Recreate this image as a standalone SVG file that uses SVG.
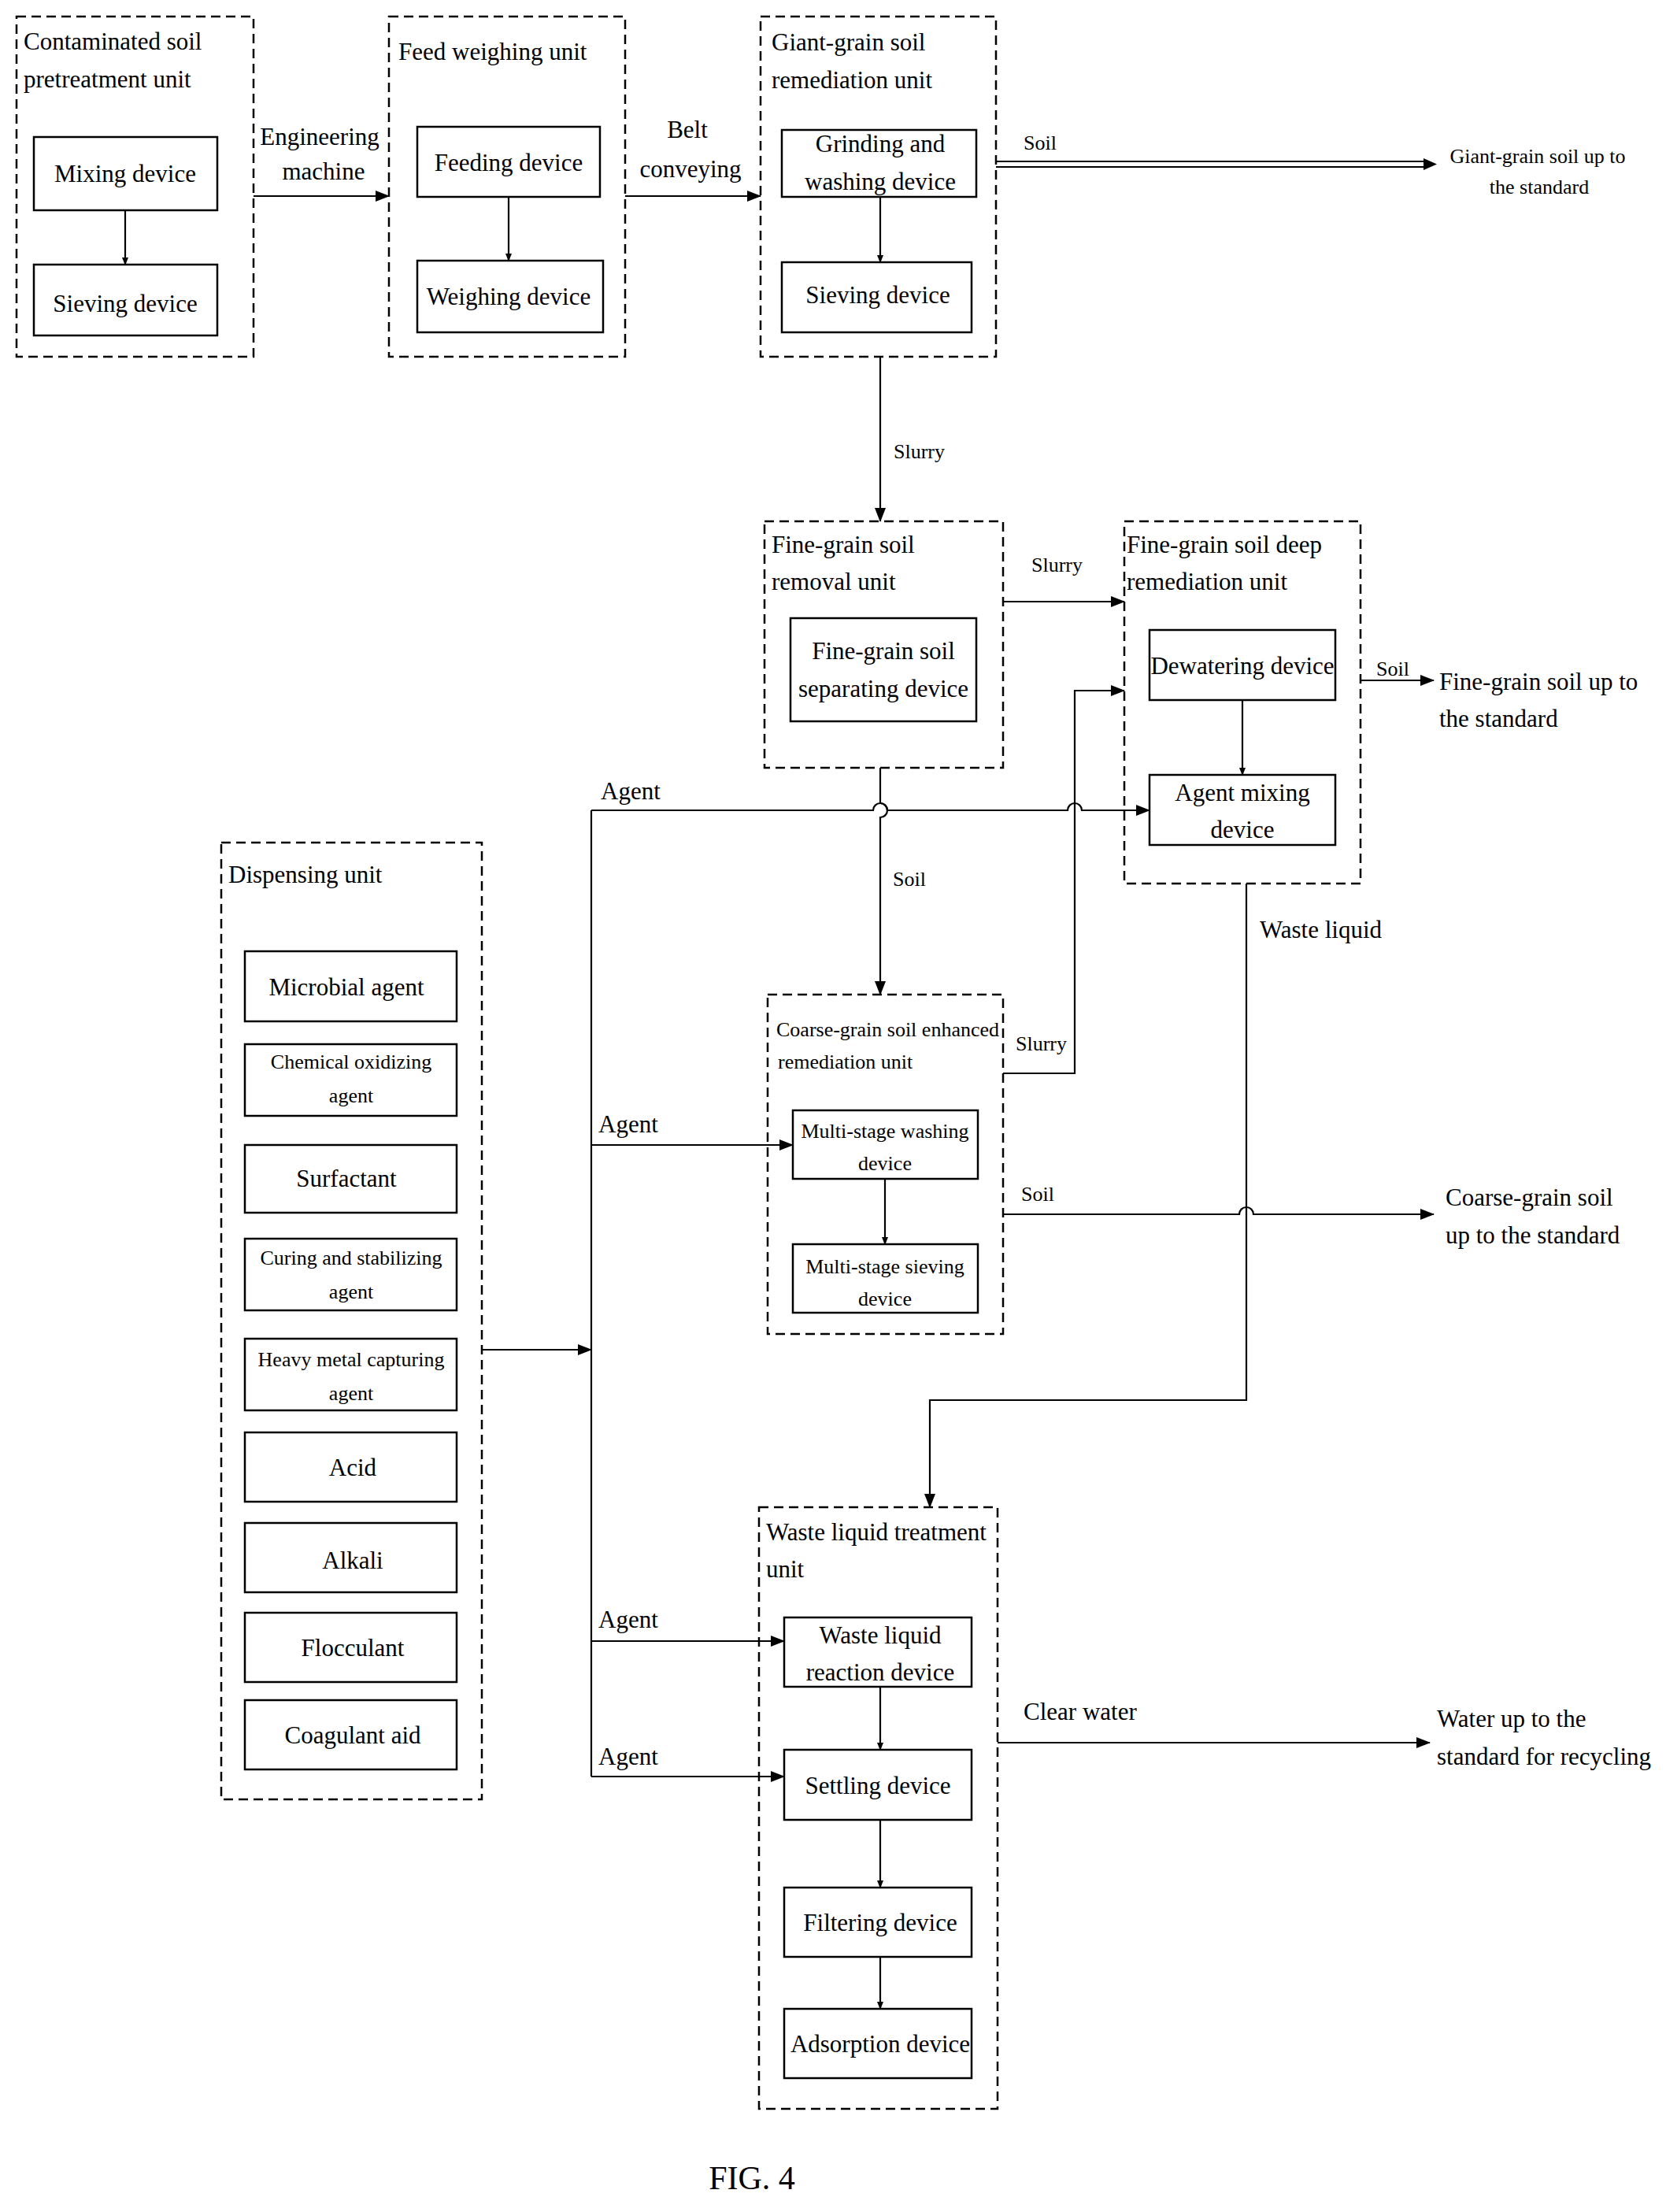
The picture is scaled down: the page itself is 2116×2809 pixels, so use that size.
<svg xmlns="http://www.w3.org/2000/svg" width="2116" height="2809" viewBox="0 0 2116 2809">
<style>
text{font-family:"Liberation Serif",serif;font-size:31px;fill:#000}
.s{font-size:26px}
.c{text-anchor:middle}
.u{fill:none;stroke:#000;stroke-width:2.5;stroke-dasharray:12,7}
.b{fill:#fff;stroke:#000;stroke-width:2.5}
.l{fill:none;stroke:#000;stroke-width:2.2}
</style>
<defs><marker id="a" markerWidth="10" markerHeight="8" refX="9" refY="4" orient="auto" markerUnits="userSpaceOnUse"><path d="M0,0L10,4L0,8z" fill="#000"/></marker>
<marker id="a2" markerWidth="18" markerHeight="14" refX="17" refY="7" orient="auto" markerUnits="userSpaceOnUse"><path d="M0,0L18,7L0,14z" fill="#000"/></marker></defs>
<rect width="2116" height="2809" fill="#fff"/>

<g id="pretreat"><rect class="u" x="21" y="21" width="301" height="432"/><text x="30" y="63">Contaminated soil</text><text x="30" y="111">pretreatment unit</text>
<rect class="b" x="43" y="174" width="233" height="93"/><text class="c" x="159" y="231">Mixing device</text>
<rect class="b" x="43" y="336" width="233" height="90"/><text class="c" x="159" y="396">Sieving device</text></g>

<g id="feed"><rect class="u" x="494" y="21" width="300" height="432"/><text x="506" y="76">Feed weighing unit</text>
<rect class="b" x="530" y="161" width="232" height="89"/><text class="c" x="646" y="217">Feeding device</text>
<rect class="b" x="530" y="331" width="236" height="91"/><text class="c" x="646" y="387">Weighing device</text></g>

<g id="giant"><rect class="u" x="966" y="21" width="299" height="432"/><text x="980" y="64">Giant-grain soil</text><text x="980" y="112">remediation unit</text>
<rect class="b" x="993" y="165" width="247" height="85"/><text class="c" x="1118" y="193">Grinding and</text><text class="c" x="1118" y="241">washing device</text>
<rect class="b" x="993" y="333" width="241" height="89"/><text class="c" x="1115" y="385">Sieving device</text></g>

<g id="fineremoval"><rect class="u" x="971" y="662" width="303" height="313"/><text x="980" y="702">Fine-grain soil</text><text x="980" y="749">removal unit</text>
<rect class="b" x="1004" y="785" width="236" height="131"/><text class="c" x="1122" y="837">Fine-grain soil</text><text class="c" x="1122" y="885">separating device</text></g>

<g id="finedeep"><rect class="u" x="1428" y="662" width="300" height="460"/><text x="1431" y="702">Fine-grain soil deep</text><text x="1431" y="749">remediation unit</text>
<rect class="b" x="1460" y="800" width="236" height="89"/><text class="c" x="1578" y="856">Dewatering device</text>
<rect class="b" x="1460" y="984" width="236" height="89"/><text class="c" x="1578" y="1017">Agent mixing</text><text class="c" x="1578" y="1064">device</text></g>

<g id="coarse"><rect class="u" x="975" y="1263" width="299" height="431"/><text class="s" x="986" y="1316">Coarse-grain soil enhanced</text><text class="s" x="988" y="1357">remediation unit</text>
<rect class="b" x="1007" y="1410" width="235" height="87"/><text class="s c" x="1124" y="1445">Multi-stage washing</text><text class="s c" x="1124" y="1486">device</text>
<rect class="b" x="1007" y="1580" width="235" height="87"/><text class="s c" x="1124" y="1617">Multi-stage sieving</text><text class="s c" x="1124" y="1658">device</text></g>

<g id="dispensing"><rect class="u" x="281" y="1070" width="331" height="1215"/><text x="290" y="1121">Dispensing unit</text>
<rect class="b" x="311" y="1208" width="269" height="89"/><text class="c" x="440" y="1264">Microbial agent</text>
<rect class="b" x="311" y="1326" width="269" height="91"/><text class="s c" x="446" y="1357">Chemical oxidizing</text><text class="s c" x="446" y="1400">agent</text>
<rect class="b" x="311" y="1454" width="269" height="86"/><text class="c" x="440" y="1507">Surfactant</text>
<rect class="b" x="311" y="1573" width="269" height="91"/><text class="s c" x="446" y="1606">Curing and stabilizing</text><text class="s c" x="446" y="1649">agent</text>
<rect class="b" x="311" y="1700" width="269" height="91"/><text class="s c" x="446" y="1735">Heavy metal capturing</text><text class="s c" x="446" y="1778">agent</text>
<rect class="b" x="311" y="1819" width="269" height="88"/><text class="c" x="448" y="1874">Acid</text>
<rect class="b" x="311" y="1934" width="269" height="88"/><text class="c" x="448" y="1992">Alkali</text>
<rect class="b" x="311" y="2048" width="269" height="88"/><text class="c" x="448" y="2103">Flocculant</text>
<rect class="b" x="311" y="2159" width="269" height="88"/><text class="c" x="448" y="2214">Coagulant aid</text></g>

<g id="wasteunit"><rect class="u" x="964" y="1914" width="303" height="764"/><text x="973" y="1956">Waste liquid treatment</text><text x="973" y="2003">unit</text>
<rect class="b" x="996" y="2054" width="238" height="88"/><text class="c" x="1118" y="2087">Waste liquid</text><text class="c" x="1118" y="2134">reaction device</text>
<rect class="b" x="996" y="2222" width="238" height="89"/><text class="c" x="1115" y="2278">Settling device</text>
<rect class="b" x="996" y="2397" width="238" height="88"/><text class="c" x="1118" y="2452">Filtering device</text>
<rect class="b" x="996" y="2551" width="238" height="88"/><text class="c" x="1118" y="2606">Adsorption device</text></g>

<g id="outputs">
<text class="s c" x="1953" y="207">Giant-grain soil up to</text><text class="s c" x="1955" y="246">the standard</text>
<text x="1828" y="876">Fine-grain soil up to</text><text x="1828" y="923">the standard</text>
<text x="1836" y="1531">Coarse-grain soil</text><text x="1836" y="1579">up to the standard</text>
<text x="1825" y="2193">Water up to the</text><text x="1825" y="2241">standard for recycling</text>
<text class="c" x="955" y="2780" style="font-size:42px">FIG. 4</text></g>

<g id="connectors">
<path class="l" d="M159,267V336" marker-end="url(#a)"/>
<path class="l" d="M646,250V331" marker-end="url(#a)"/>
<path class="l" d="M1118,250V333" marker-end="url(#a)"/>
<path class="l" d="M1578,889V984" marker-end="url(#a)"/>
<path class="l" d="M1124,1497V1580" marker-end="url(#a)"/>
<path class="l" d="M1118,2142V2222" marker-end="url(#a)"/>
<path class="l" d="M1118,2311V2397" marker-end="url(#a)"/>
<path class="l" d="M1118,2485V2551" marker-end="url(#a)"/>
<path class="l" d="M322,249H494" marker-end="url(#a2)"/><text class="c" x="406" y="184">Engineering</text><text class="c" x="411" y="228">machine</text>
<path class="l" d="M794,249H966" marker-end="url(#a2)"/><text class="c" x="873" y="175">Belt</text><text class="c" x="877" y="225">conveying</text>
<path class="l" d="M1265,205H1812M1265,212H1812"/><path d="M1808,201L1825,208.5L1808,216z"/><text class="s" x="1300" y="190">Soil</text>
<path class="l" d="M1118,453V662" marker-end="url(#a2)"/><text class="s" x="1135" y="582">Slurry</text>
<path class="l" d="M1274,764H1428" marker-end="url(#a2)"/><text class="s" x="1310" y="726">Slurry</text>
<path class="l" d="M1728,864H1821" marker-end="url(#a2)"/><text class="s" x="1748" y="858">Soil</text>
<path class="l" d="M1118,975V1020A9,9 0 0 1 1118,1038V1263" marker-end="url(#a2)"/><text class="s" x="1134" y="1125">Soil</text>
<path class="l" d="M751,1029H1109A9,9 0 0 1 1127,1029H1356A9,9 0 0 1 1374,1029H1460" marker-end="url(#a2)"/><text x="763" y="1015">Agent</text>
<path class="l" d="M1274,1363H1365V877H1428" marker-end="url(#a2)"/><text class="s" x="1290" y="1334">Slurry</text>
<path class="l" d="M751,1029V2256"/>
<path class="l" d="M612,1714H751" marker-end="url(#a2)"/>
<path class="l" d="M751,1454H1007" marker-end="url(#a2)"/><text x="760" y="1438">Agent</text>
<path class="l" d="M1274,1542H1574A9,9 0 0 1 1592,1542H1821" marker-end="url(#a2)"/><text class="s" x="1297" y="1525">Soil</text>
<path class="l" d="M1583,1122V1778H1181V1914" marker-end="url(#a2)"/><text x="1600" y="1191">Waste liquid</text>
<path class="l" d="M751,2084H996" marker-end="url(#a2)"/><text x="760" y="2067">Agent</text>
<path class="l" d="M751,2256H996" marker-end="url(#a2)"/><text x="760" y="2241">Agent</text>
<path class="l" d="M1267,2213H1816" marker-end="url(#a2)"/><text x="1300" y="2184">Clear water</text>
</g>
</svg>
